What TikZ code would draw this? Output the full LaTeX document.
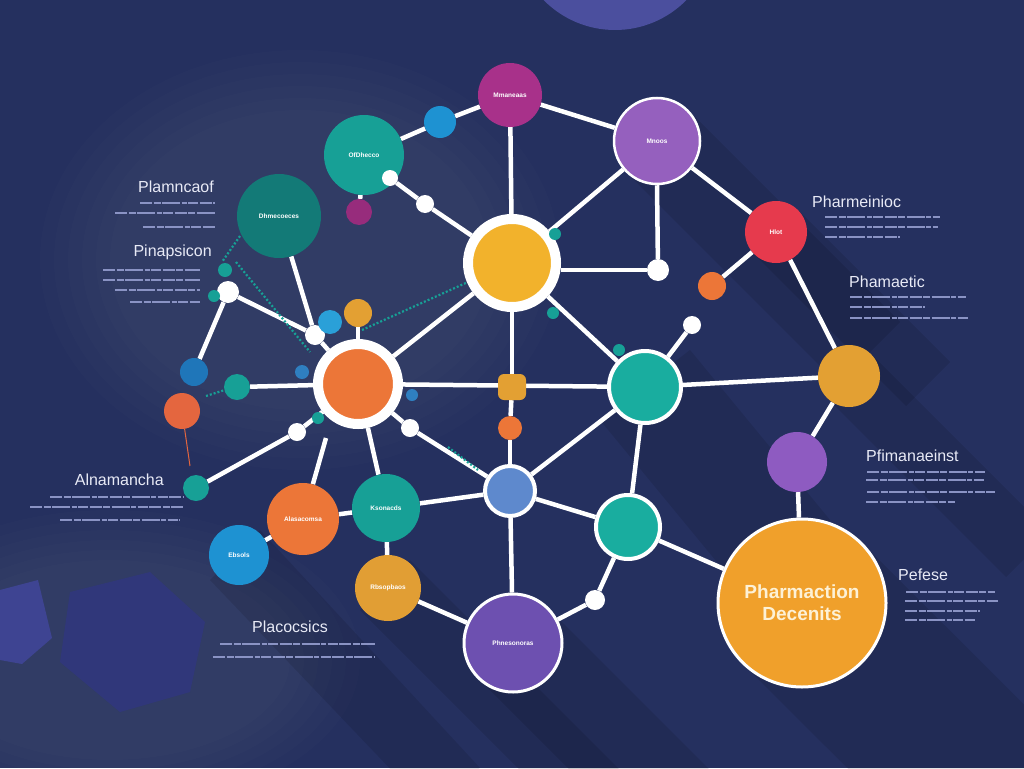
\documentclass[tikz,border=0pt]{standalone}
\usepackage{fontspec}
\setmainfont{Liberation Sans}
\pgfdeclarelayer{deco}
\pgfdeclarelayer{edges}
\pgfsetlayers{deco,edges,main}
\definecolor{bgc}{HTML}{25305F}
\definecolor{cmag}{HTML}{A8318A}
\definecolor{cblue}{HTML}{1E92D2}
\definecolor{cteal}{HTML}{17A096}
\definecolor{cteal2}{HTML}{19AD9F}
\definecolor{cdteal}{HTML}{137A77}
\definecolor{cpur}{HTML}{9560BE}
\definecolor{cyel}{HTML}{F2B22C}
\definecolor{cred}{HTML}{E63A4D}
\definecolor{cora}{HTML}{EC7638}
\definecolor{cgold}{HTML}{E3A033}
\definecolor{cbig}{HTML}{F0A02B}
\definecolor{cpb}{HTML}{6D50B0}
\definecolor{clb}{HTML}{5E89CD}
\definecolor{cscrib}{HTML}{8A93C4}
\definecolor{chead}{HTML}{E8EAF6}
\definecolor{ctop}{HTML}{4B4F9E}
\definecolor{chexa}{HTML}{3E4492}
\definecolor{chexb}{HTML}{30377A}
\definecolor{cros}{HTML}{E4663F}
\definecolor{cdblue}{HTML}{1F76B9}
\definecolor{cskyb}{HTML}{2AA0D8}
\definecolor{cnub}{HTML}{2F7FC0}
\definecolor{ccream}{HTML}{FDF1D6}
\newcommand\scribl[3]{\draw[scrib] (#1,#3) -- (#2,#3);}
\tikzset{
  ball/.style={circle, inner sep=0pt, fill=#1, text=white, font=\fontsize{6.5}{7}\selectfont\bfseries},
  sz/.style={minimum size=#1pt},
  ringed/.style={draw=white, line width=#1pt},
  dot/.style={circle, inner sep=0pt, fill=white},
  link/.style={draw=white, line width=4.5pt},
  tdots/.style={draw=cteal, line width=2.2pt, dash pattern=on 2pt off 2pt},
  scrib/.style={draw=cscrib, line width=1.6pt, dash pattern=on 12pt off 1.5pt on 7pt off 1.5pt on 18pt off 1.5pt on 5pt off 1.5pt on 10pt off 1.5pt},
  head/.style={text=chead, inner sep=0pt, font=\fontsize{16}{18}\selectfont},
  shade/.style={fill=black, fill opacity=0.10},
  glow/.style={fill=white, fill opacity=0.012}
}
\begin{document}
\begin{tikzpicture}[x=1pt,y=-1pt]
\useasboundingbox (0,0) rectangle (1024,768);
\begin{pgfonlayer}{deco}
\fill[bgc] (0,0) rectangle (1024,768);
\clip (0,0) rectangle (1024,768);
\foreach \k in {0,...,5}{
  \fill[glow] (300,260) ellipse [x radius=260-14*\k, y radius=210-12*\k];
  \fill[glow] (110,660) ellipse [x radius=250-14*\k, y radius=150-10*\k];
}
\fill[ctop] (615,-70) circle [radius=100];
\fill[chexa] (0,590) -- (38,580) -- (52,638) -- (22,664) -- (0,660) -- cycle;
\fill[chexb] (70,592) -- (150,572) -- (205,622) -- (190,692) -- (120,712) -- (60,662) -- cycle;
\fill[shade] (742,663) -- (862,543) -- (1200,880) -- (1080,1000) -- cycle;
\fill[shade] (626,172) -- (688,110) -- (900,322) -- (838,384) -- cycle;
\fill[shade] (754,254) -- (798,210) -- (950,362) -- (906,406) -- cycle;
\fill[shade] (827,398) -- (871,354) -- (1050,533) -- (1006,577) -- cycle;
\fill[shade] (478,678) -- (548,608) -- (760,820) -- (690,890) -- cycle;
\fill[shade] (360,610) -- (410,560) -- (620,770) -- (570,820) -- cycle;
\fill[shade] (210,580) -- (260,530) -- (480,768) -- (420,800) -- cycle;
\fill[shade] (600,420) -- (690,350) -- (830,520) -- (740,590) -- cycle;
\end{pgfonlayer}

% ---------- nodes ----------
\node[ball=cmag, sz=64] (mag) at (510,95) {Mmaneaas};
\node[ball=cblue, sz=32] (bsm) at (440,122) {};
\node[ball=cteal, sz=80] (tl1) at (364,155) {OfDhecco};
\node[ball=cpur, sz=86, ringed=2.5] (pur) at (657,141) {Mnoos};
\node[ball=cdteal, sz=84] (tl2) at (279,216) {Dhmecoeces};
\node[ball=cmag!90!black, sz=26] (msm) at (359,212) {};
\node[dot, sz=16] (w1) at (390,178) {};
\node[dot, sz=18] (w2) at (425,204) {};
\node[ball=cyel, sz=88, ringed=10] (hub) at (512,263) {};
\node[dot, sz=22] (w3) at (658,270) {};
\node[ball=cred, sz=62] (red) at (776,232) {Hlot};
\node[ball=cora, sz=28] (osm) at (712,286) {};
\node[ball=cora, sz=80, ringed=10] (ohub) at (358,384) {};
\node[ball=cgold, sz=28] (ysm) at (358,313) {};
\node[ball=cteal2, sz=72, ringed=4] (tl3) at (645,387) {};
\node[dot, sz=18] (w4) at (692,325) {};
\node[ball=cgold, sz=62] (yr) at (849,376) {};
\node[ball=cpur!95!blue, sz=60] (pr) at (797,462) {};
\node[ball=cbig, sz=168, ringed=3, text=ccream, font=\fontsize{19}{22}\selectfont\bfseries, align=center] (big) at (802,603) {Pharmaction\\Decenits};
\node[fill=cgold, rounded corners=6pt, inner sep=0pt, minimum width=28pt, minimum height=26pt] (sq1) at (512,387) {};
\node[ball=cora, sz=24] (sq2) at (510,428) {};
\node[ball=clb, sz=50, ringed=4] (blu) at (510,491) {};
\node[ball=cteal2, sz=64, ringed=4] (tl4) at (628,527) {};
\node[dot, sz=20] (w5) at (595,600) {};
\node[ball=cpb, sz=98, ringed=3] (pb) at (513,643) {Phnesonoras};
\node[ball=cgold!95!brown, sz=66] (yl) at (388,588) {Rbsopbaos};
\node[ball=cteal, sz=68] (tl5) at (386,508) {Ksonacds};
\node[ball=cora, sz=72] (or) at (303,519) {Alasacomsa};
\node[ball=cblue, sz=60] (bl) at (239,555) {Ebsols};
\node[ball=cteal, sz=26] (ts) at (196,488) {};
\node[ball=cros, sz=36] (os) at (182,411) {};
\node[ball=cdblue, sz=28] (bs) at (194,372) {};
\node[ball=cteal, sz=26] (ts2) at (237,387) {};
\node[dot, sz=22] (w6) at (228,292) {};
\node[dot, sz=20] (w7) at (315,335) {};
\node[dot, sz=18] (w8) at (297,432) {};
\node[dot, sz=18] (w9) at (410,428) {};
\node[ball=cskyb, sz=24] (bsm2) at (330,322) {};
\node[ball=cteal, sz=12] (n1) at (555,234) {};
\node[ball=cteal, sz=12] (n2) at (553,313) {};
\node[ball=cteal, sz=12] (n3) at (619,350) {};
\node[ball=cnub, sz=14] (n4) at (302,372) {};
\node[ball=cnub, sz=12] (n5) at (412,395) {};
\node[ball=cteal, sz=12] (n6) at (318,418) {};
\node[ball=cteal, sz=14] (n7) at (225,270) {};
\node[ball=cteal, sz=12] (n8) at (214,296) {};

\coordinate (cu) at (326,438);
\coordinate (rl) at (190,466);
\coordinate (d1a) at (236,262); \coordinate (d1b) at (310,352);
\coordinate (d2a) at (362,330); \coordinate (d2b) at (468,282);
\coordinate (d3a) at (206,396); \coordinate (d3b) at (228,389);
\coordinate (d4a) at (448,447); \coordinate (d4b) at (478,470);
\coordinate (d5a) at (240,236); \coordinate (d5b) at (222,262);

% ---------- edges ----------
\begin{pgfonlayer}{edges}
\draw[link] (mag) -- (bsm);
\draw[link] (bsm) -- (tl1);
\draw[link] (mag) -- (hub);
\draw[link] (mag) -- (pur);
\draw[link] (pur) -- (hub);
\draw[link] (pur) -- (red);
\draw[link] (pur.south) -- (w3);
\draw[link] (w3) -- (hub.east |- w3);
\draw[link] (red) -- (osm);
\draw[link] (red) -- (yr);
\draw[link] (yr) -- (pr);
\draw[link] (pr) -- (big);
\draw[link] (tl3) -- (yr);
\draw[link] (tl3) -- (w4);
\draw[link] (tl3) -- (hub);
\draw[link] (tl3) -- (ohub);
\draw[link] (tl3) -- (tl4);
\draw[link] (tl3) -- (blu);
\draw[link] (hub) -- (sq1);
\draw[link] (sq1) -- (sq2);
\draw[link] (sq2) -- (blu);
\draw[link] (hub) -- (ohub);
\draw[link] (tl1) -- (w1);
\draw[link] (w1) -- (w2);
\draw[link] (w2) -- (hub);
\draw[link] (tl1) -- (msm);
\draw[link] (tl2) -- (w7);
\draw[link] (w6) -- (w7);
\draw[link] (w6) -- (bs);
\draw[link] (w7) -- (ohub);
\draw[link] (ohub) -- (ts2);
\draw[link] (ohub) -- (w8);
\draw[link] (w8) -- (ts);
\draw[link] (ohub) -- (tl5);
\draw[link] (ohub) -- (w9);
\draw[link] (w9) -- (blu);
\draw[link] (ysm) -- (ohub);
\draw[link] (or) -- (cu);
\draw[link] (blu) -- (tl5);
\draw[link] (blu) -- (tl4);
\draw[link] (blu) -- (pb);
\draw[link] (tl4) -- (big);
\draw[link] (tl4) -- (w5);
\draw[link] (w5) -- (pb);
\draw[link] (yl) -- (pb);
\draw[link] (tl5) -- (yl);
\draw[link] (or) -- (tl5);
\draw[link] (bl) -- (or);
\draw[draw=cros, line width=1pt] (os) -- (rl);
\draw[tdots] (d1a) -- (d1b);
\draw[tdots] (d2a) -- (d2b);
\draw[tdots] (d3a) -- (d3b);
\draw[tdots] (d4a) -- (d4b);
\draw[tdots] (d5a) -- (d5b);
\end{pgfonlayer}

% ---------- headings ----------
\node[head, anchor=east] (h1) at (214,187) {Plamncaof};
\scribl{140}{215}{203} \scribl{115}{215}{213} \scribl{143}{215}{227}
\node[head, anchor=east] (h2) at (212,252) {Pinapsicon};
\scribl{103}{200}{270} \scribl{103}{200}{280} \scribl{115}{200}{290} \scribl{130}{200}{302}
\node[head, anchor=east] (h3) at (164,480) {Alnamancha};
\scribl{50}{183}{497} \scribl{30}{183}{507} \scribl{60}{180}{520}
\node[head, anchor=west] (h4) at (252,627) {Placocsics};
\scribl{220}{375}{644} \scribl{213}{375}{657}
\node[head, anchor=west] (h5) at (812,202) {Pharmeinioc};
\scribl{825}{940}{217} \scribl{825}{938}{227} \scribl{825}{900}{237}
\node[head, anchor=west] (h6) at (849,282) {Phamaetic};
\scribl{850}{966}{297} \scribl{850}{925}{307} \scribl{850}{968}{318}
\node[head, anchor=west] (h7) at (866,456) {Pfimanaeinst};
\scribl{867}{985}{472} \scribl{866}{985}{480} \scribl{867}{995}{492} \scribl{866}{955}{502}
\node[head, anchor=west] (h8) at (898,575) {Pefese};
\scribl{906}{995}{592} \scribl{905}{998}{601} \scribl{905}{980}{611} \scribl{905}{975}{620}
\end{tikzpicture}
\end{document}
